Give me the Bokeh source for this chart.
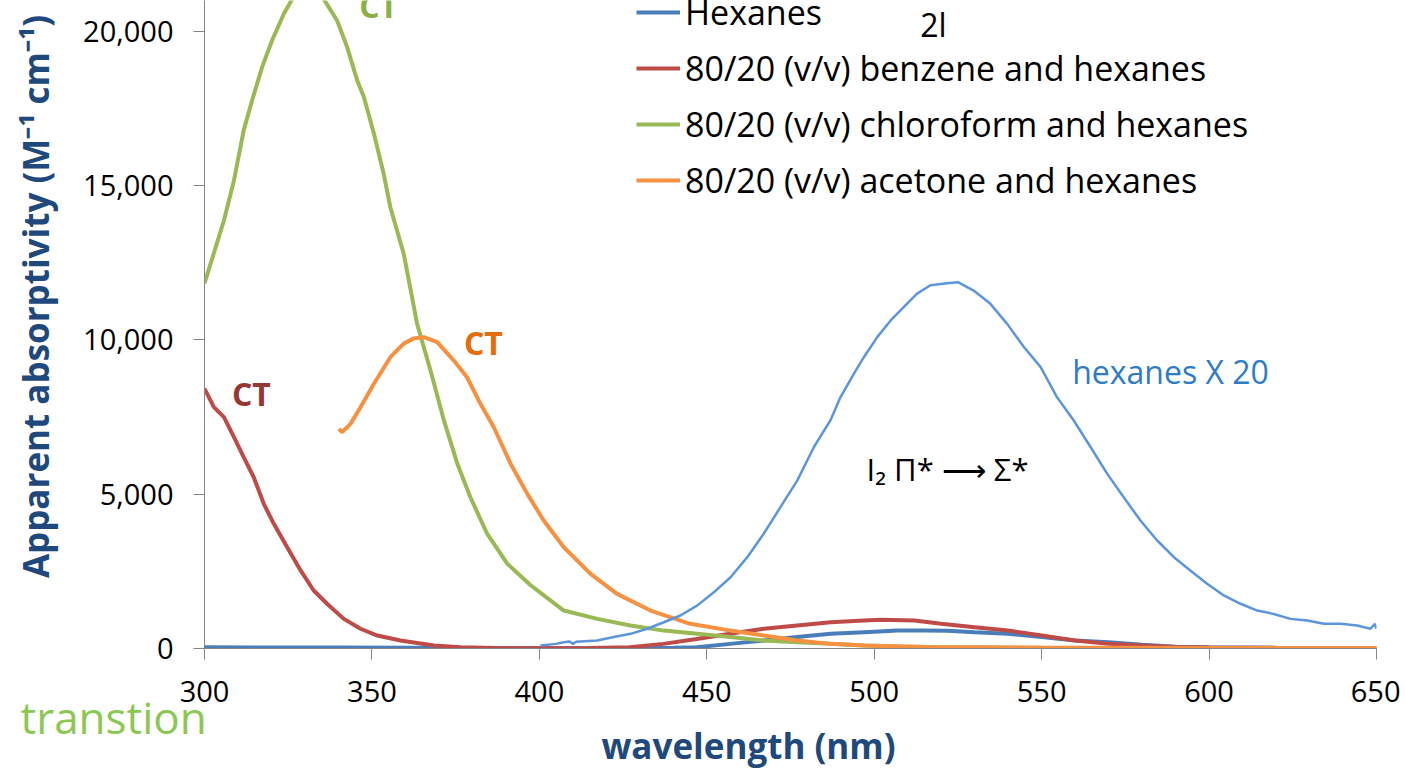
from math import pi
from bokeh.plotting import figure
from bokeh.layouts import column, row
from bokeh.models import (Range1d, FixedTicker, NumeralTickFormatter, Legend,
                          LegendItem, Label)
from bokeh.embed import file_html
from bokeh.resources import INLINE

# ---------------- data ----------------
x_ticks = [300, 350, 400, 450, 500, 550, 600, 650]
y_ticks = [0, 5000, 10000, 15000, 20000]

series_names = ["Hexanes",
                "80/20 (v/v) benzene and hexanes",
                "80/20 (v/v) chloroform and hexanes",
                "80/20 (v/v) acetone and hexanes"]

wl_hex = [300, 340, 380, 420, 430, 440, 447, 457, 467, 477, 487, 497, 507, 515,
          522, 530, 540, 550, 560, 570, 580, 590, 600, 620, 650]
val_hex = [40, 30, 20, 10, 15, 25, 40, 150, 260, 370, 475, 530, 580, 585,
           575, 530, 475, 370, 260, 200, 120, 60, 40, 25, 20]

wl_benz = [300, 302.8, 305.8, 308.8, 311.7, 314.7, 317.7, 320.7, 324.7, 328.7,
           332.6, 336.6, 341.6, 346.6, 351.6, 358.5, 368.5, 376.5, 390, 400,
           415, 427, 437, 447, 457, 467, 477, 487, 497, 502, 512, 520, 530,
           540, 550, 560, 570, 580, 590, 600, 620, 650]
val_benz = [8420, 7820, 7500, 6850, 6200, 5550, 4690, 4040, 3280, 2530,
            1880, 1450, 960, 640, 420, 260, 100, 40, 10, 5,
            15, 40, 150, 310, 475, 640, 745, 850, 910, 930, 910, 800, 690,
            580, 420, 260, 150, 97, 50, 30, 20, 15]

wl_chl = [300, 305.8, 308.8, 311.7, 314.2, 317.2, 320.2, 323.7, 327, 331, 335,
          339.6, 342.6, 345.6, 347.6, 350.6, 353.5, 355.5, 359.5, 363.5, 367.5,
          371.5, 375.5, 379.4, 384.4, 390.4, 397.4, 407.3, 417.3, 427.2, 437.2,
          447.1, 457.1, 467, 477, 487, 497, 507, 520, 550, 600, 650]
val_chl = [11830, 13870, 15170, 16790, 17760, 18840, 19710, 20570, 21200, 21400,
           21150, 20350, 19490, 18410, 17870, 16680, 15390, 14300, 12790, 10520,
           9010, 7390, 5990, 4900, 3720, 2750, 2050, 1230, 960, 745, 580,
           475, 370, 260, 205, 150, 100, 65, 40, 20, 15, 10]

wl_ace = [340.1, 341.1, 343.6, 346.6, 350.6, 355.5, 359.5, 362.5, 365.5, 369.5,
          374.4, 378.4, 382.4, 386.4, 391.4, 396.4, 401.3, 407.3, 415.3, 423.2,
          433.2, 445.1, 457.1, 467, 477, 487, 497, 515, 550, 600, 650]
val_ace = [7120, 7010, 7280, 7820, 8580, 9440, 9880, 10050, 10090, 9930,
           9340, 8790, 7930, 7170, 5990, 5010, 4150, 3280, 2420, 1770,
           1230, 800, 580, 420, 260, 150, 97, 50, 30, 20, 20]

wl_x20 = [400.3, 405, 407.3, 409, 410, 411, 417.3, 422.2, 427.2, 432.2, 437.2,
          442.1, 447.1, 452.1, 457.1, 462.1, 467, 472, 477, 482, 486.9, 489.9,
          493.9, 496.9, 500.9, 504.9, 508.8, 512.8, 516.8, 521.8, 525, 529.7,
          534.7, 539.7, 544.7, 549.7, 554.6, 559.6, 564.6, 569.6, 574.5, 579.5,
          584.5, 589.5, 594.4, 599.4, 604.4, 609.4, 614.4, 619.3, 624.3, 629.3,
          634.3, 639.3, 644.2, 648.2, 649.5, 650]
val_x20 = [97, 150, 205, 230, 150, 220, 260, 370, 475, 640, 850,
           1070, 1390, 1820, 2310, 2960, 3720, 4580, 5440, 6530, 7390, 8140,
           8900, 9440, 10090, 10630, 11060, 11500, 11770, 11840, 11870, 11600,
           11170, 10520, 9770, 9120, 8140, 7390, 6530, 5660, 4900, 4150,
           3500, 2960, 2530, 2100, 1720, 1450, 1230, 1120, 960, 910,
           800, 800, 745, 640, 800, 640]

FONT = "Open Sans"
TITLE_BLUE = "#1F497D"


def blank_fig(w, h, xr, yr, **kw):
    f = figure(width=w, height=h, output_backend="svg", toolbar_location=None,
               x_range=Range1d(*xr), y_range=Range1d(*yr),
               x_axis_location=None, y_axis_location=None, min_border=0,
               min_border_left=0, min_border_right=0, min_border_top=0,
               min_border_bottom=0, **kw)
    f.frame_align = False
    f.grid.visible = False
    f.outline_line_color = None
    return f


def lab(fig, x, y, text, color, size, bold=False, units="data",
        align="center", angle=0):
    fig.add_layout(Label(x=x, y=y, x_units=units, y_units=units, text=text,
                         text_color=color, text_font=FONT, text_font_size=size,
                         text_font_style="bold" if bold else "normal",
                         text_align=align, text_baseline="middle",
                         angle=angle))


# ---------------- main figure ----------------
p = figure(width=1340, height=724, output_backend="svg", toolbar_location=None,
           x_range=Range1d(300, 650), y_range=Range1d(0, 21000),
           min_border_left=144, min_border_right=24, min_border_top=0,
           min_border_bottom=76)
p.frame_align = False
p.xgrid.visible = False
p.ygrid.visible = False
p.outline_line_color = None
p.background_fill_color = "white"
p.border_fill_color = "white"

for ax in (p.xaxis[0], p.yaxis[0]):
    ax.axis_line_color = "#868686"
    ax.major_tick_line_color = "#868686"
    ax.major_tick_out = 11
    ax.major_tick_in = 0
    ax.minor_tick_line_color = None
    ax.major_label_text_font = FONT
    ax.major_label_text_font_size = "29px"
    ax.major_label_text_color = "black"
p.xaxis[0].major_label_standoff = 21
p.yaxis[0].major_label_standoff = 20

p.xaxis[0].ticker = FixedTicker(ticks=x_ticks)
p.yaxis[0].ticker = FixedTicker(ticks=y_ticks)
p.yaxis[0].formatter = NumeralTickFormatter(format="0,0")

colors = ["#4A7EBB", "#BE4B48", "#98B954", "#F59140"]
r_hex = p.line(wl_hex, val_hex, line_color=colors[0], line_width=4)
r_benz = p.line(wl_benz, val_benz, line_color=colors[1], line_width=4)
r_chl = p.line(wl_chl, val_chl, line_color=colors[2], line_width=4)
r_ace = p.line(wl_ace, val_ace, line_color=colors[3], line_width=4)
p.line(wl_x20, val_x20, line_color="#5B96DC", line_width=2.5)

legend = Legend(items=[LegendItem(label=n, renderers=[r]) for n, r in
                       zip(series_names, [r_hex, r_benz, r_chl, r_ace])],
                location=(432, 440), glyph_width=44, glyph_height=56,
                label_height=56, spacing=0, padding=0, margin=0,
                label_standoff=5, border_line_alpha=0,
                background_fill_alpha=0, label_text_font=FONT,
                label_text_font_size="34px", label_text_color="black")
p.add_layout(legend)

lab(p, 352, 20836, "CT", "#8DAF45", "32px", bold=True)
lab(p, 314, 8263, "CT", "#953735", "32px", bold=True)
lab(p, 383.3, 9916, "CT", "#E46C0A", "32px", bold=True)
lab(p, 588.5, 8976, "hexanes X 20", "#2E7CC8", "32px")
lab(p, 521.9, 5833, "I\u2082 \u03a0* \u27f6 \u03a3*", "black", "31px")
lab(p, 729, 624, "2l", "black", "32px", units="screen")

# ---------------- left strip: y axis title (page pixel coordinates) -------
pl = blank_fig(60, 724, (0, 60), (724, 0))
pl.background_fill_color = "white"
pl.border_fill_color = "white"
lab(pl, 35, 296, "Apparent absorptivity (M\u207b\u00b9 cm\u207b\u00b9)",
    TITLE_BLUE, "35px", bold=True, angle=pi / 2)

# ------- bottom strip (transparent, overlapping the axis area) -----------
p2 = blank_fig(1400, 90, (0, 1400), (770, 680),
               styles={"margin-top": "-44px"})
p2.background_fill_alpha = 0
p2.border_fill_alpha = 0
lab(p2, 748, 745, "wavelength (nm)", TITLE_BLUE, "35px", bold=True)
lab(p2, 20, 716, "transtion", "#8BC751", "44px", align="left")

layout = column(row(pl, p, spacing=0), p2, spacing=0)
open("out.html", "w").write(file_html(layout, INLINE))
